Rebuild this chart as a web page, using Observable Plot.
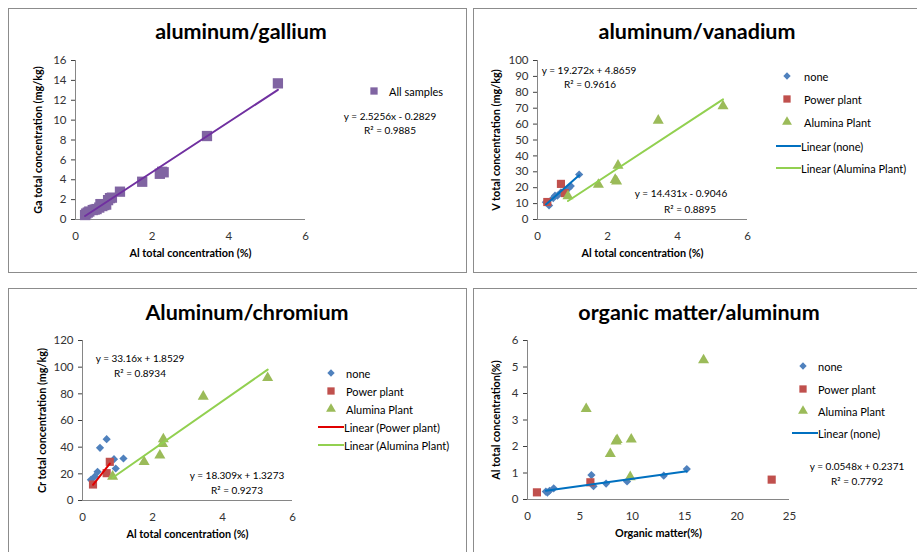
<!DOCTYPE html>
<html><head><meta charset="utf-8">
<script src="https://cdn.jsdelivr.net/npm/d3@7"></script>
<script src="https://cdn.jsdelivr.net/npm/@observablehq/plot@0.6"></script>
<style>
body{margin:0;background:#fff;font-family:Lato,"Open Sans",sans-serif;}
#root{position:relative;width:917px;height:552px;overflow:hidden;background:#fff}
.panel{position:absolute;border:1px solid #8c8c8c;box-sizing:border-box;background:#fff}
.title{position:absolute;font-weight:bold;font-size:21.5px;color:#000;white-space:nowrap;transform:translate(-50%,-50%)}
.txt{position:absolute;font-size:10px;color:#000;white-space:nowrap;transform:translate(-50%,-50%)}
.leg{position:absolute;font-size:11px;color:#000;white-space:nowrap;transform:translate(0,-50%)}
.sw{position:absolute;overflow:visible}
svg g[aria-label="x-axis label"] text, svg g[aria-label="y-axis label"] text{font-weight:bold;font-size:10.8px;fill:#000}
svg g[aria-label="x-axis tick label"] text, svg g[aria-label="y-axis tick label"] text{fill:#333}
</style>
</head><body>
<div id="root"></div>
<script>
// ---------- DATA ----------
// Panel 1: aluminum/gallium (All samples)
const gaAl = [0.25,0.28,0.32,0.36,0.45,0.5,0.55,0.62,0.65,0.7,0.75,0.8,0.85,0.9,0.95,1.16,1.74,2.2,2.26,2.3,3.43,5.28];
const gaGa = [0.45,0.6,0.7,0.8,0.95,1.0,1.05,1.2,1.55,1.35,1.45,1.5,1.95,2.15,2.2,2.8,3.8,4.6,4.8,4.75,8.4,13.7];
const gaFit = [2.5256, -0.2829];

// Panel 2: aluminum/vanadium
const vNoneAl = [0.24,0.33,0.45,0.5,0.57,0.67,0.81,0.9,0.95,1.19];
const vNoneV  = [10.9,8.8,13.5,15,15,17,18,20,21,28.3];
const vPowAl  = [0.28,0.67,0.78];
const vPowV   = [11,22.4,16.6];
const vAluAl  = [0.87,1.74,2.22,2.26,2.3,3.45,5.3];
const vAluV   = [14.7,22,25,24,34,62.3,71.3];
const vNoneFit = [19.272, 4.8659];
const vAluFit  = [14.431, -0.9046];

// Panel 3: Aluminum/chromium
const crNoneAl = [0.24,0.35,0.43,0.5,0.69,0.9,0.95,1.17];
const crNoneCr = [15.5,18,21.5,39.5,46,31,24,31.5];
const crPowAl  = [0.3,0.69,0.78];
const crPowCr  = [12,20.5,29];
const crAluAl  = [0.86,1.76,2.21,2.29,2.31,3.45,5.29];
const crAluCr  = [18,29,33.8,42.5,46,78,92];
const crPowFit = [33.16, 1.8529];
const crAluFit = [18.309, 1.3273];

// Panel 4: organic matter/aluminum
const omNoneOM = [1.75,1.9,2.1,2.5,6.1,6.3,7.5,9.5,13,15.2];
const omNoneAl = [0.3,0.26,0.33,0.42,0.92,0.5,0.6,0.68,0.9,1.15];
const omPowOM  = [0.9,6.0,23.3];
const omPowAl  = [0.27,0.65,0.75];
const omAluOM  = [5.6,7.9,8.45,8.55,9.9,9.8,16.8];
const omAluAl  = [3.42,1.72,2.2,2.25,2.27,0.85,5.26];
const omNoneFit = [0.0548, 0.2371];

// tick labels
const ticksAl6 = [0,2,4,6];
const ticksGa = [0,2,4,6,8,10,12,14,16];
const ticksV = [0,10,20,30,40,50,60,70,80,90,100];
const ticksCr = [0,20,40,60,80,100,120];
const ticksOM = [0,5,10,15,20,25];
const ticksAlPct = [0,1,2,3,4,5,6];

// ---------- HELPERS ----------
const root = document.getElementById("root");
const C = {purple:"#8064A2", purpleLine:"#7030A0", blue:"#4F81BD", blueLine:"#0070C0",
  red:"#C0504D", redLine:"#E00000", green:"#9BBB59", greenLine:"#92D050", axis:"#868686"};
const pts = (xs, ys) => xs.map((x,i)=>({x, y: ys[i]}));
const fit = (xs, f) => d3.extent(xs).map(x => ({x, y: f[0]*x + f[1]}));
const SYM = {diamond:{type:"diamond2", r:3.7}, square:{type:"square", r:4.6}, triangle:{type:"triangle", r:4.1}, bigsquare:{type:"square", r:5.8}};

function el(cls, x, y, text){
  const d = document.createElement("div"); d.className = cls;
  d.style.left = x+"px"; d.style.top = y+"px"; d.textContent = text; root.appendChild(d); return d;
}
function box(l,t,w,h){ const d=document.createElement("div"); d.className="panel";
  Object.assign(d.style,{left:l+"px",top:t+"px",width:w+"px",height:h+"px"}); root.appendChild(d); }
const d3types = {diamond2: d3.symbolDiamond2, square: d3.symbolSquare, triangle: d3.symbolTriangle};
function swatch(x, y, kind, color){
  const s = SYM[kind];
  const svg = d3.create("svg").attr("class","sw").attr("width",16).attr("height",16)
    .style("left",(x-8)+"px").style("top",(y-8)+"px");
  svg.append("path").attr("transform","translate(8,8)")
    .attr("d", d3.symbol(d3types[s.type], Math.PI*s.r*s.r*0.8)()).attr("fill", color);
  root.appendChild(svg.node());
}
function lineSw(x0, x1, y, color){
  const svg = d3.create("svg").attr("class","sw").attr("width",x1-x0).attr("height",4)
    .style("left",x0+"px").style("top",(y-2)+"px");
  svg.append("line").attr("x1",0).attr("x2",x1-x0).attr("y1",2).attr("y2",2).attr("stroke",color).attr("stroke-width",2);
  root.appendChild(svg.node());
}

function makePlot(cfg){
  const fmt = d => String(d);
  const marks = [
    Plot.axisX({ticks: cfg.xTicks, tickFormat: fmt, tickSize:0, tickPadding:12, label: cfg.xLabel, labelAnchor:"center", labelArrow:"none", labelOffset: 37}),
    Plot.axisY({ticks: cfg.yTicks, tickFormat: fmt, tickSize:4, tickPadding:5, label: cfg.yLabel, labelAnchor:"center", labelArrow:"none", labelOffset: cfg.yLabelOffset}),
    Plot.ruleX([cfg.xDomain[0]], {stroke: C.axis}),
    Plot.ruleY([cfg.yDomain[0]], {stroke: C.axis}),
  ];
  for (const s of cfg.series) {
    const sym = SYM[s.kind];
    marks.push(Plot.dot(s.data, {x:"x", y:"y", symbol: sym.type, r: sym.r, fill: s.color, stroke:"none"}));
  }
  for (const l of cfg.lines) {
    marks.push(Plot.line(l.data, {x:"x", y:"y", stroke: l.color, strokeWidth: 2}));
  }
  const p = Plot.plot({
    width: cfg.w, height: cfg.h,
    marginLeft: cfg.fx0 - cfg.left, marginRight: cfg.left + cfg.w - cfg.fx1,
    marginTop: cfg.fy0 - cfg.top, marginBottom: cfg.top + cfg.h - cfg.fy1,
    style: {fontFamily: "Lato, 'Open Sans', sans-serif", fontSize: "11.5px", background: "transparent", color: "#404040", overflow:"visible"},
    x: {domain: cfg.xDomain},
    y: {domain: cfg.yDomain},
    marks
  });
  p.style.position = "absolute"; p.style.left = cfg.left+"px"; p.style.top = cfg.top+"px";
  root.appendChild(p);
}

// ---------- PANELS ----------
box(8,8,459,265); box(473,8,446,265); box(8,288,459,266); box(473,288,446,266);

// Panel 1
makePlot({left:8, top:8, w:459, h:265, fx0:75, fx1:305, fy0:60, fy1:219,
  xDomain:[0,6], yDomain:[0,16], xTicks:ticksAl6, yTicks:ticksGa,
  xLabel:"Al total concentration (%)", yLabel:"Ga total concentration (mg/kg)", yLabelOffset:41,
  series:[{data:pts(gaAl,gaGa), kind:"bigsquare", color:C.purple}],
  lines:[{data:fit(gaAl,gaFit), color:C.purpleLine}]});
el("title", 241, 31, "aluminum/gallium");
swatch(374, 91, "square", C.purple); el("leg", 389, 91, "All samples");
el("txt", 390, 116, "y = 2.5256x - 0.2829"); el("txt", 390, 130, "R² = 0.9885");

// Panel 2
makePlot({left:473, top:8, w:446, h:265, fx0:537, fx1:747, fy0:60, fy1:219,
  xDomain:[0,6], yDomain:[0,100], xTicks:ticksAl6, yTicks:ticksV,
  xLabel:"Al total concentration (%)", yLabel:"V total concentration (mg/kg)", yLabelOffset:45,
  series:[{data:pts(vNoneAl,vNoneV), kind:"diamond", color:C.blue},
          {data:pts(vPowAl,vPowV), kind:"square", color:C.red},
          {data:pts(vAluAl,vAluV), kind:"triangle", color:C.green}],
  lines:[{data:fit(vNoneAl,vNoneFit), color:C.blueLine},{data:fit(vAluAl,vAluFit), color:C.greenLine}]});
el("title", 697, 31, "aluminum/vanadium");
swatch(787,76,"diamond",C.blue); el("leg",804,76,"none");
swatch(787,99,"square",C.red); el("leg",804,99,"Power plant");
swatch(787,122,"triangle",C.green); el("leg",804,122,"Alumina Plant");
lineSw(776,801,146,C.blueLine); el("leg",801,146,"Linear (none)");
lineSw(776,801,168,C.greenLine); el("leg",801,168,"Linear (Alumina Plant)");
el("txt",589,70,"y = 19.272x + 4.8659"); el("txt",590,84,"R² = 0.9616");
el("txt",681,193,"y = 14.431x - 0.9046"); el("txt",690,209,"R² = 0.8895");

// Panel 3
makePlot({left:8, top:288, w:459, h:266, fx0:82, fx1:292, fy0:340, fy1:500,
  xDomain:[0,6], yDomain:[0,120], xTicks:ticksAl6, yTicks:ticksCr,
  xLabel:"Al total concentration (%)", yLabel:"Cr total concentration (mg/kg)", yLabelOffset:44,
  series:[{data:pts(crNoneAl,crNoneCr), kind:"diamond", color:C.blue},
          {data:pts(crPowAl,crPowCr), kind:"square", color:C.red},
          {data:pts(crAluAl,crAluCr), kind:"triangle", color:C.green}],
  lines:[{data:fit(crPowAl,crPowFit), color:C.redLine},{data:fit(crAluAl,crAluFit), color:C.greenLine}]});
el("title", 247, 312, "Aluminum/chromium");
swatch(331,373,"diamond",C.blue); el("leg",346,373,"none");
swatch(331,391,"square",C.red); el("leg",346,391,"Power plant");
swatch(331,409,"triangle",C.green); el("leg",346,409,"Alumina Plant");
lineSw(318,344,427,C.redLine); el("leg",344,427,"Linear (Power plant)");
lineSw(318,344,445,C.greenLine); el("leg",344,445,"Linear (Alumina Plant)");
el("txt",140,358,"y = 33.16x + 1.8529"); el("txt",140,373,"R² = 0.8934");
el("txt",237,475,"y = 18.309x + 1.3273"); el("txt",237,490,"R² = 0.9273");

// Panel 4
makePlot({left:473, top:288, w:446, h:266, fx0:527, fx1:789, fy0:340, fy1:499,
  xDomain:[0,25], yDomain:[0,6], xTicks:ticksOM, yTicks:ticksAlPct,
  xLabel:"Organic matter(%)", yLabel:"Al total concentration(%)", yLabelOffset:35,
  series:[{data:pts(omNoneOM,omNoneAl), kind:"diamond", color:C.blue},
          {data:pts(omPowOM,omPowAl), kind:"square", color:C.red},
          {data:pts(omAluOM,omAluAl), kind:"triangle", color:C.green}],
  lines:[{data:fit(omNoneOM,omNoneFit), color:C.blueLine}]});
el("title", 699, 312, "organic matter/aluminum");
swatch(803,366,"diamond",C.blue); el("leg",818,366,"none");
swatch(803,389,"square",C.red); el("leg",818,389,"Power plant");
swatch(803,411,"triangle",C.green); el("leg",818,411,"Alumina Plant");
lineSw(792,818,433,C.blueLine); el("leg",818,433,"Linear (none)");
el("txt",857,466,"y = 0.0548x + 0.2371"); el("txt",857,481,"R² = 0.7792");
</script>
</body></html>
